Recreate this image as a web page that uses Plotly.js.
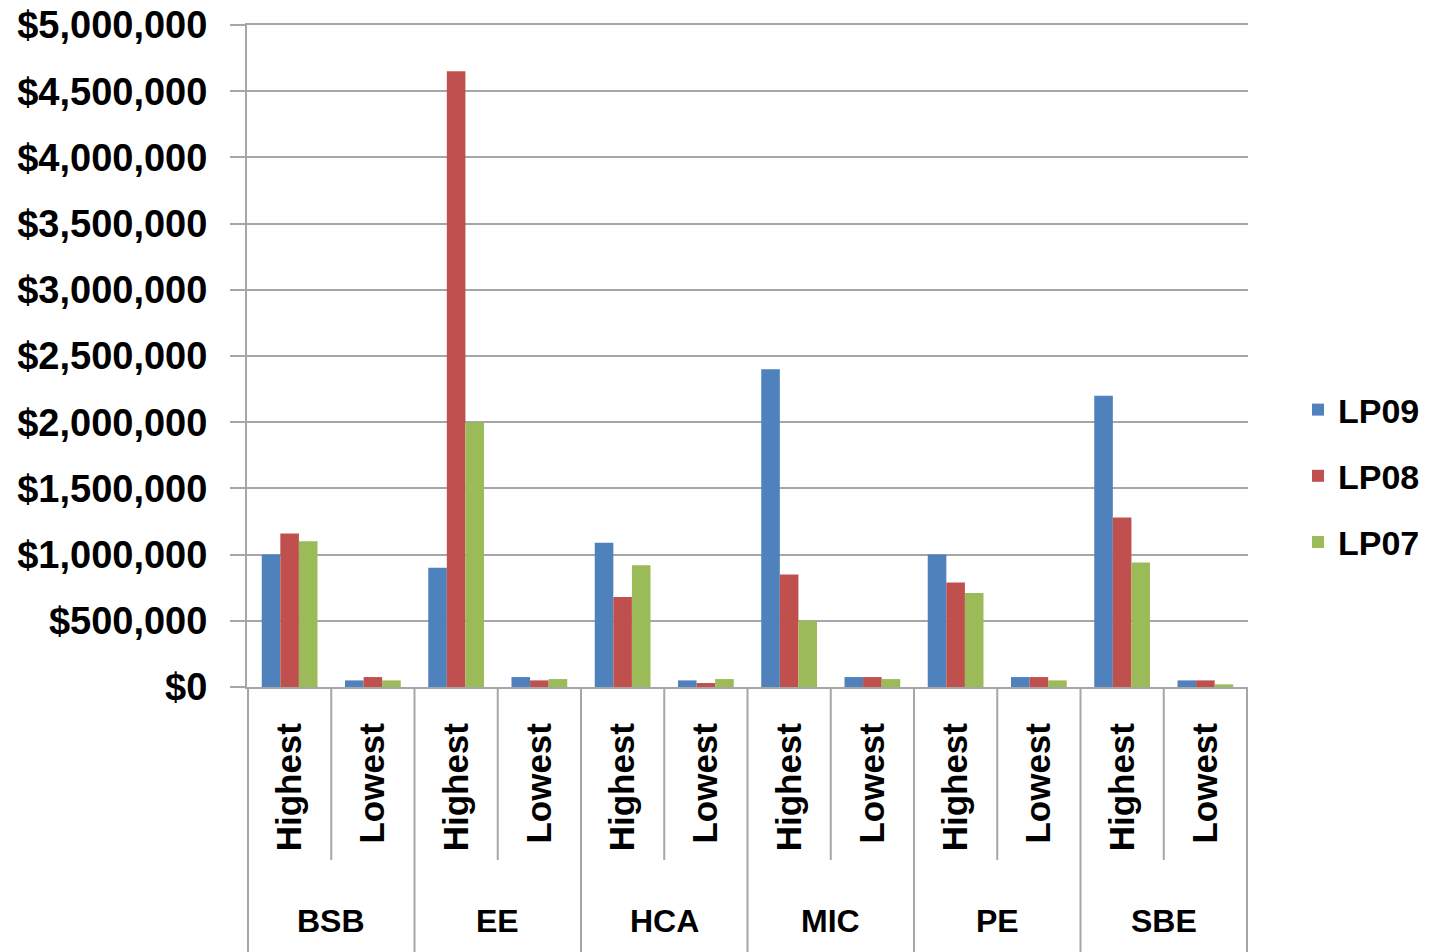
<!DOCTYPE html>
<html>
<head>
<meta charset="utf-8">
<script src="https://cdn.plot.ly/plotly-3.0.1.min.js"></script>
<style>html,body{margin:0;padding:0;background:#fff;}#chart{width:1430px;height:952px;}</style>
</head>
<body>
<div id="chart"></div>
<script>
var groups = ['BSB', 'EE', 'HCA', 'MIC', 'PE', 'SBE'];
var levels = ['Highest', 'Lowest'];
var seriesNames = ['LP09', 'LP08', 'LP07'];
var lp09 = [1000000, 50000, 900000, 75000, 1090000, 50000, 2400000, 75000, 1000000, 75000, 2200000, 50000];
var lp08 = [1160000, 75000, 4650000, 50000, 680000, 30000, 850000, 75000, 790000, 75000, 1280000, 50000];
var lp07 = [1100000, 50000, 2000000, 60000, 920000, 60000, 500000, 60000, 710000, 50000, 940000, 20000];
var colors = ['#4F81BD', '#C0504D', '#9BBB59'];

var cats = [], tickText = [];
groups.forEach(function (g) {
  levels.forEach(function (l) { cats.push(g + ' ' + l); tickText.push(l); });
});

var values = [lp09, lp08, lp07];
var traces = values.map(function (v, i) {
  return {
    type: 'bar', x: cats, y: v, name: seriesNames[i],
    marker: {color: colors[i]}, legendgroup: seriesNames[i]
  };
});

var gridCol = '#A6A6A6';
var plotH = 662;
var shapes = [];
var annotations = [];
var nL = levels.length;
for (var g = 0; g < groups.length; g++) {
  for (var k = 1; k < nL; k++) {
    shapes.push({type: 'line', xref: 'x', yref: 'paper', x0: g * nL + k - 0.5, x1: g * nL + k - 0.5,
      y0: 0, y1: -173 / plotH, line: {color: gridCol, width: 2}});
  }
  annotations.push({xref: 'x', yref: 'paper', x: g * nL + (nL - 1) / 2, y: -234 / plotH,
    text: groups[g], showarrow: false, yanchor: 'middle', xanchor: 'center',
    font: {family: 'Liberation Sans, Arial, sans-serif', size: 32, color: '#000', weight: 'bold'}});
}
for (var b = 0; b <= groups.length; b++) {
  shapes.push({type: 'line', xref: 'x', yref: 'paper', x0: b * nL - 0.5, x1: b * nL - 0.5,
    y0: 0, y1: -0.42, line: {color: gridCol, width: 2}});
}

var layout = {
  width: 1430, height: 952,
  margin: {l: 247, r: 182, t: 25, b: 265},
  paper_bgcolor: '#fff', plot_bgcolor: '#fff',
  barmode: 'group', bargap: 0.33, bargroupgap: 0,
  font: {family: 'Liberation Sans, Arial, sans-serif', color: '#000', weight: 'bold'},
  xaxis: {
    type: 'category', tickmode: 'array', tickvals: cats, ticktext: tickText,
    tickangle: -90, ticks: '', showgrid: false, showline: true, mirror: true,
    linecolor: gridCol, linewidth: 2,
    tickfont: {size: 35, weight: 'bold'}, ticklabelstandoff: 20, automargin: false
  },
  yaxis: {
    range: [0, 5000000], dtick: 500000, tickprefix: '$', tickformat: ',.0f',
    showgrid: true, gridcolor: gridCol, gridwidth: 2, zeroline: false,
    showline: true, linecolor: gridCol, linewidth: 2,
    ticks: 'outside', ticklen: 15, tickwidth: 2, tickcolor: gridCol,
    tickfont: {size: 38, weight: 'bold'}, ticklabelstandoff: 15, automargin: false
  },
  legend: {
    xref: 'container', yref: 'container',
    x: 1298 / 1430, xanchor: 'left', y: 1 - 476 / 952, yanchor: 'middle',
    font: {size: 34, weight: 'bold'}, tracegroupgap: 19, traceorder: 'grouped',
    bgcolor: 'rgba(0,0,0,0)'
  },
  shapes: shapes,
  annotations: annotations
};

Plotly.newPlot('chart', traces, layout, {displayModeBar: false, staticPlot: true});
</script>
</body>
</html>
